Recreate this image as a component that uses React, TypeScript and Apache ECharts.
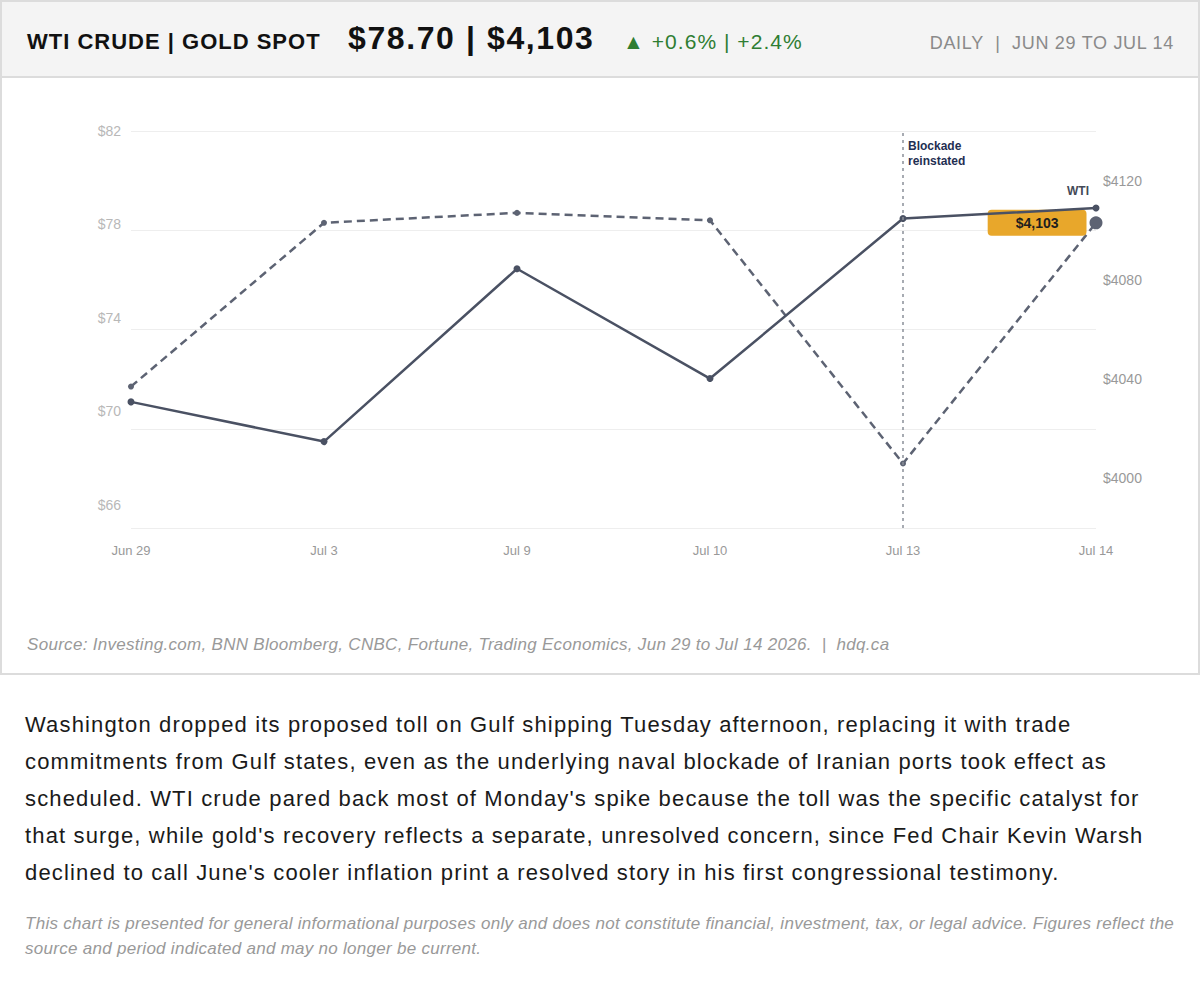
import React, { useEffect, useRef } from "react";
import * as echarts from "echarts";

const categories = ["Jun 29", "Jul 3", "Jul 9", "Jul 10", "Jul 13", "Jul 14"];
const wtiValues = [70.4, 68.7, 76.1, 71.4, 78.25, 78.7];
const goldValues = [4037, 4103, 4107, 4104, 4006, 4103];
const wtiTickLabels = [66, 70, 74, 78, 82];
const goldTickLabels = [4000, 4040, 4080, 4120];
const annotationCategory = "Jul 13";
const annotationText = "Blockade\nreinstated";
const wtiName = "WTI";
const goldLastLabel = "$4,103";

const FONT = "'Liberation Sans', Arial, Helvetica, sans-serif";

function Chart() {
  const ref = useRef<HTMLDivElement>(null);
  useEffect(() => {
    if (!ref.current) return;
    const chart = echarts.init(ref.current, undefined, { renderer: "svg" });
    const lastIdx = categories.length - 1;
    const wtiData = wtiValues.map((v, i) =>
      i === lastIdx
        ? {
            value: v,
            label: {
              show: true,
              formatter: wtiName,
              position: "top",
              distance: 6,
              offset: [-18, -2],
              color: "#444a57",
              fontWeight: "bold",
              fontSize: 12,
              fontFamily: FONT,
            },
          }
        : v
    );
    const goldData = goldValues.map((v, i) =>
      i === lastIdx
        ? {
            value: v,
            symbolSize: 13,
            label: {
              show: true,
              formatter: goldLastLabel,
              position: "left",
              distance: 3,
              backgroundColor: "#e8a72b",
              borderRadius: 4,
              padding: [6, 28, 6, 28],
              lineHeight: 14,
              color: "#1e1e1e",
              fontWeight: "bold",
              fontSize: 14,
              fontFamily: FONT,
            },
          }
        : v
    );
    chart.setOption({
      animation: false,
      textStyle: { fontFamily: FONT },
      grid: { left: 129, right: 102, top: 53, bottom: 90, containLabel: false },
      xAxis: {
        type: "category",
        data: categories,
        boundaryGap: false,
        axisLine: { show: false },
        axisTick: { show: false },
        axisLabel: { color: "#999", fontSize: 13, margin: 16, fontFamily: FONT },
        splitLine: { show: false },
      },
      yAxis: [
        {
          type: "value",
          position: "left",
          min: 65,
          max: 82,
          interval: 1,
          axisLine: { show: false },
          axisTick: { show: false },
          splitLine: { show: false },
          axisLabel: {
            color: "#b8b8b8",
            fontSize: 14,
            margin: 10,
            fontFamily: FONT,
            formatter: (v: number) => (wtiTickLabels.includes(Math.round(v * 1000) / 1000) ? "$" + v : ""),
          },
        },
        {
          type: "value",
          position: "right",
          min: 3980,
          max: 4140,
          interval: 20,
          axisLine: { show: false },
          axisTick: { show: false },
          splitLine: { show: false },
          axisLabel: {
            color: "#999",
            fontSize: 14,
            margin: 7,
            fontFamily: FONT,
            formatter: (v: number) => (goldTickLabels.includes(Math.round(v)) ? "$" + v : ""),
          },
        },
        {
          type: "value",
          position: "right",
          min: 3980,
          max: 4140,
          interval: 40,
          axisLine: { show: false },
          axisTick: { show: false },
          axisLabel: { show: false },
          splitLine: { show: true, lineStyle: { color: "#eeeeee", width: 1 } },
        },
      ],
      series: [
        {
          name: "Gold",
          type: "line",
          yAxisIndex: 1,
          data: goldData,
          symbol: "circle",
          symbolSize: 6,
          itemStyle: { color: "#5d6373" },
          lineStyle: { color: "#5d6373", width: 2.5, type: [8, 5] },
          z: 2,
          markLine: {
            silent: true,
            symbol: ["none", "none"],
            label: { show: false },
            lineStyle: { color: "#8b9099", width: 1.5, type: [3, 4] },
            data: [{ xAxis: annotationCategory }],
          },
        },
        {
          name: "WTI",
          type: "line",
          yAxisIndex: 0,
          data: wtiData,
          symbol: "circle",
          symbolSize: 7,
          itemStyle: { color: "#4a5163" },
          lineStyle: { color: "#4a5163", width: 2.5 },
          z: 3,
          markPoint: {
            silent: true,
            symbol: "circle",
            symbolSize: 0,
            data: [
              {
                coord: [annotationCategory, 82],
                label: {
                  show: true,
                  formatter: annotationText,
                  position: "right",
                  distance: 5,
                  offset: [0, 22],
                  align: "left",
                  color: "#1f2f52",
                  fontWeight: "bold",
                  fontSize: 12,
                  lineHeight: 15,
                  fontFamily: FONT,
                },
              },
            ],
          },
        },
      ],
    });
    return () => chart.dispose();
  }, []);
  return <div ref={ref} style={{ width: 1196, height: 540 }} />;
}

export default function App() {
  useEffect(() => {
    document.body.style.margin = "0";
    document.body.style.background = "#fff";
  }, []);
  return (
    <div style={{ width: 1200, fontFamily: FONT, position: "relative" }}>
      <div
        style={{
          boxSizing: "border-box",
          height: 78,
          border: "2px solid #dcdcdc",
          background: "#f4f4f4",
          position: "relative",
        }}
      >
        <span style={{ position: "absolute", left: 25, top: 27, fontSize: 22, fontWeight: "bold", color: "#111", lineHeight: "26px", whiteSpace: "nowrap", letterSpacing: "1px" }}>
          WTI CRUDE | GOLD SPOT
        </span>
        <span style={{ position: "absolute", left: 346, top: 16, fontSize: 32, fontWeight: "bold", color: "#111", lineHeight: "40px", whiteSpace: "nowrap", letterSpacing: "1.6px" }}>
          $78.70 | $4,103
        </span>
        <span style={{ position: "absolute", left: 621, top: 27, fontSize: 21, color: "#2e7d32", lineHeight: "26px", whiteSpace: "nowrap", letterSpacing: "1.05px" }}>
          ▲ +0.6% | +2.4%
        </span>
        <span style={{ position: "absolute", right: 24, top: 29, fontSize: 18, color: "#8a8a8a", lineHeight: "24px", whiteSpace: "nowrap", letterSpacing: "0.7px" }}>
          DAILY&nbsp; |&nbsp; JUN 29 TO JUL 14
        </span>
      </div>
      <div
        style={{
          boxSizing: "border-box",
          height: 597,
          borderLeft: "2px solid #dcdcdc",
          borderRight: "2px solid #dcdcdc",
          borderBottom: "2px solid #dcdcdc",
          position: "relative",
          background: "#fff",
        }}
      >
        <Chart />
        <div
          style={{
            position: "absolute",
            left: 25,
            top: 555,
            fontSize: 17,
            fontStyle: "italic",
            color: "#999",
            lineHeight: "24px",
            whiteSpace: "nowrap",
            letterSpacing: "0.3px",
          }}
        >
          Source: Investing.com, BNN Bloomberg, CNBC, Fortune, Trading Economics, Jun 29 to Jul 14 2026.&nbsp; |&nbsp; hdq.ca
        </div>
      </div>
      <p style={{ margin: "31px 15px 0 25px", fontSize: 22, lineHeight: "37px", color: "#1a1a1a", letterSpacing: "1.15px" }}>
        Washington dropped its proposed toll on Gulf shipping Tuesday afternoon, replacing it with trade commitments from Gulf states, even as the underlying naval blockade of Iranian ports took effect as scheduled. WTI crude pared back most of Monday's spike because the toll was the specific catalyst for that surge, while gold's recovery reflects a separate, unresolved concern, since Fed Chair Kevin Warsh declined to call June's cooler inflation print a resolved story in his first congressional testimony.
      </p>
      <p style={{ margin: "20px 15px 0 25px", fontSize: 17, lineHeight: "25px", fontStyle: "italic", color: "#999", letterSpacing: "0.28px" }}>
        This chart is presented for general informational purposes only and does not constitute financial, investment, tax, or legal advice. Figures reflect the source and period indicated and may no longer be current.
      </p>
    </div>
  );
}
